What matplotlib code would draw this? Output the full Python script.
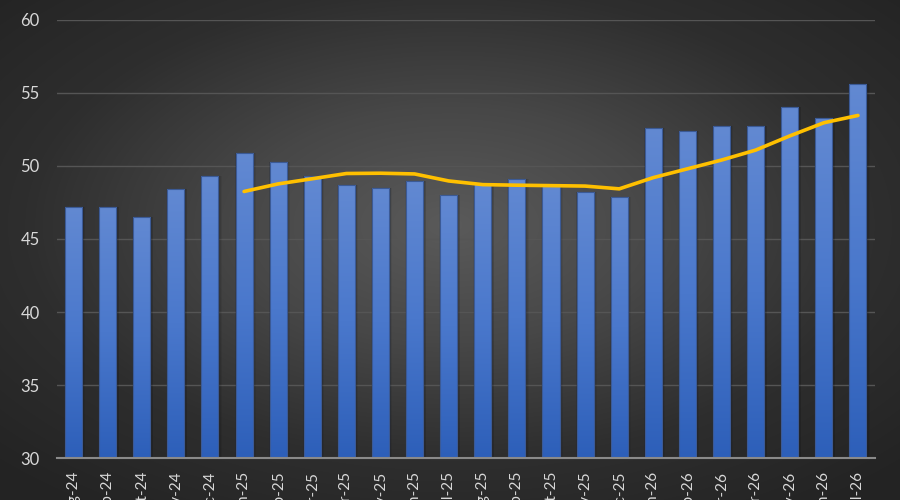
import numpy as np
import matplotlib
matplotlib.use("Agg")
import matplotlib.pyplot as plt
from matplotlib.colors import LinearSegmentedColormap

months = ["Aug-24", "Sep-24", "Oct-24", "Nov-24", "Dec-24", "Jan-25", "Feb-25", "Mar-25",
          "Apr-25", "May-25", "Jun-25", "Jul-25", "Aug-25", "Sep-25", "Oct-25", "Nov-25",
          "Dec-25", "Jan-26", "Feb-26", "Mar-26", "Apr-26", "May-26", "Jun-26", "Jul-26"]
values = [47.2, 47.2, 46.5, 48.4, 49.3, 50.9, 50.3, 49.3, 48.7, 48.5, 49.0, 48.0,
          48.8, 49.1, 48.6, 48.2, 47.9, 52.6, 52.4, 52.7, 52.7, 54.0, 53.3, 55.6]
# trend line (starts at Jan-25)
trend_start = 5
trend = [48.25, 48.77, 49.12, 49.48, 49.5, 49.45, 48.97, 48.72, 48.68, 48.65,
         48.62, 48.43, 49.2, 49.8, 50.4, 51.08, 52.05, 52.95, 53.45]

plt.rcParams["font.family"] = ["Lato", "DejaVu Sans"]
TXT = "#d9d9d9"

fig = plt.figure(figsize=(9, 5), dpi=100)

# radial background
bg = fig.add_axes([0, 0, 1, 1])
gx, gy = np.meshgrid(np.linspace(-1, 1, 900), np.linspace(-1, 1, 500))
r = np.sqrt(gx ** 2 + (gy + 0.1) ** 2) / np.sqrt(2)
bg_cmap = LinearSegmentedColormap.from_list("bg", ["#5a5a5a", "#474747", "#2e2e2e", "#232323"])
bg.imshow(r, cmap=bg_cmap, aspect="auto", extent=[0, 1, 0, 1], vmin=0, vmax=1)
bg.set_axis_off()

ax = fig.add_axes([56.5 / 900, 0.0834, (875 - 56.5) / 900, 0.9606 - 0.0834])
ax.patch.set_alpha(0)

x = np.arange(len(months))
ax.set_xlim(-0.5, len(months) - 0.5)
ax.set_ylim(30, 60)

# soft shadow behind bars
for w, a in [(0.62, 0.06), (0.58, 0.08), (0.54, 0.10)]:
    ax.bar(x + 0.03, np.array(values) - 30, width=w, bottom=30, color="black",
           alpha=a, zorder=1.5, linewidth=0)

bars = ax.bar(x, np.array(values) - 30, width=0.5, bottom=30, color="#4a74c9",
              edgecolor="#3b5a96", linewidth=0.8, zorder=2)

bar_cmap = LinearSegmentedColormap.from_list("bar", ["#2d5fb9", "#4a78cc", "#6289d2"])
grad = np.linspace(0, 1, 256).reshape(-1, 1)
for b in bars:
    bx, by = b.get_x(), b.get_y()
    bw, bh = b.get_width(), b.get_height()
    im = ax.imshow(grad, cmap=bar_cmap, aspect="auto", origin="lower",
                   extent=[bx, bx + bw, by, by + bh], zorder=2.1)
    im.set_clip_path(b)
    ax.add_patch(plt.Rectangle((bx, by), bw, bh, fill=False, edgecolor="#3b5a96",
                               linewidth=0.8, zorder=2.2))

ax.plot(x[trend_start:], trend, color="#ffc000", linewidth=2.6, zorder=3,
        solid_capstyle="round")

ax.set_yticks(np.arange(30, 61, 5))
ax.yaxis.grid(True, color="#555555", linewidth=1)
ax.set_axisbelow(True)
ax.set_xticks(x)
ax.set_xticklabels(months, rotation=90, va="top", ha="center")
ax.tick_params(axis="both", length=0, colors=TXT, labelsize=12)
ax.tick_params(axis="x", pad=9, labelsize=11)
ax.tick_params(axis="y", pad=12)

for s in ["top", "right", "left"]:
    ax.spines[s].set_visible(False)
ax.spines["bottom"].set_color("#8a8a8a")
ax.spines["bottom"].set_linewidth(1.5)
ax.spines["bottom"].set_zorder(4)

ax.autoscale(False)
fig.savefig("out.png", dpi=100)
